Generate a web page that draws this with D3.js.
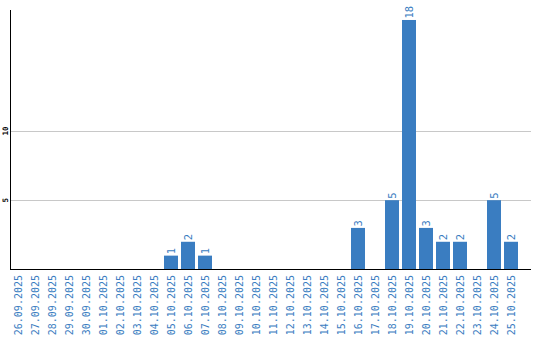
<!DOCTYPE html>
<html><head><meta charset="utf-8">
<script src="https://cdn.jsdelivr.net/npm/d3@7"></script>
<style>body{margin:0;background:#fff}svg{display:block}</style>
</head><body><svg id="c" width="540" height="340"></svg>
<script>
const dates = ["26.09.2025","27.09.2025","28.09.2025","29.09.2025","30.09.2025","01.10.2025","02.10.2025","03.10.2025","04.10.2025","05.10.2025","06.10.2025","07.10.2025","08.10.2025","09.10.2025","10.10.2025","11.10.2025","12.10.2025","13.10.2025","14.10.2025","15.10.2025","16.10.2025","17.10.2025","18.10.2025","19.10.2025","20.10.2025","21.10.2025","22.10.2025","23.10.2025","24.10.2025","25.10.2025"];
const counts = [0,0,0,0,0,0,0,0,0,1,2,1,0,0,0,0,0,0,0,0,3,0,5,18,3,2,2,0,5,2];
const yTicks = [5,10];

const svg = d3.select("#c");
const blue = "#3a7dc1";
const mono = "'DejaVu Sans Mono', monospace";
const x = d3.scaleBand().domain(dates).range([11, 521]).paddingInner(3/17).paddingOuter(3/34).align(0);
const y = d3.scaleLinear().domain([0, 18.72]).range([269.5, 10]);
const plotRight = 531;

// gridlines
svg.append("g").selectAll("line").data(yTicks).join("line")
  .attr("x1", 11).attr("x2", plotRight)
  .attr("y1", d => Math.round(y(d)) + 0.5).attr("y2", d => Math.round(y(d)) + 0.5)
  .attr("stroke", "#c8c8c8").attr("stroke-width", 1);

// y tick labels
svg.append("g").selectAll("text").data(yTicks).join("text")
  .attr("transform", d => `translate(7.5,${y(d)}) rotate(-90)`)
  .attr("text-anchor", "middle")
  .attr("font-family", mono).attr("font-weight", "bold")
  .attr("font-size", 7.5).attr("fill", "#000")
  .text(d => d);

// bars
const data = dates.map((d, i) => ({d, v: counts[i]}));
svg.append("g").selectAll("rect").data(data.filter(e => e.v > 0)).join("rect")
  .attr("x", e => x(e.d)).attr("width", x.bandwidth())
  .attr("y", e => y(e.v)).attr("height", e => y(0) - y(e.v))
  .attr("fill", blue);

// value labels
svg.append("g").selectAll("text").data(data.filter(e => e.v > 0)).join("text")
  .attr("transform", e => `translate(${x(e.d) + x.bandwidth()/2 + 4},${y(e.v) - 1.5}) rotate(-90)`)
  .attr("text-anchor", "start")
  .attr("font-family", mono).attr("font-size", 10.5).attr("fill", blue)
  .text(e => e.v);

// axes
svg.append("line").attr("x1", 10.5).attr("x2", 10.5).attr("y1", 10).attr("y2", 270)
  .attr("stroke", "#000").attr("stroke-width", 1);
svg.append("line").attr("x1", 10).attr("x2", plotRight).attr("y1", 269.5).attr("y2", 269.5)
  .attr("stroke", "#000").attr("stroke-width", 1);

// x tick labels
svg.append("g").selectAll("text").data(dates).join("text")
  .attr("transform", d => `translate(${x(d) + x.bandwidth()/2 + 3.7},275) rotate(-90)`)
  .attr("text-anchor", "end")
  .attr("font-family", mono).attr("font-size", 10).attr("fill", blue)
  .text(d => d);
</script></body></html>
